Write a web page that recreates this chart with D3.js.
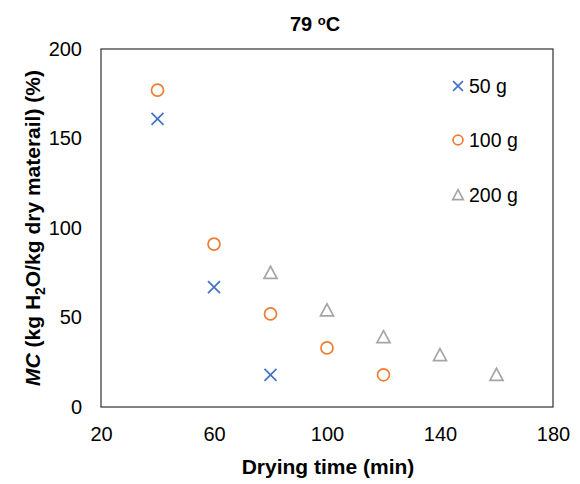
<!DOCTYPE html>
<html><head><meta charset="utf-8">
<script src="https://cdn.jsdelivr.net/npm/d3@7"></script>
<style>body{margin:0;background:#fff}text{font-family:"Liberation Sans",Arial,sans-serif}</style>
</head><body><svg id="c" width="580" height="484"></svg>
<script>
const seriesNames = ["50 g", "100 g", "200 g"];
const time50 = [40, 60, 80];
const mc50 = [161, 67, 18];
const time100 = [40, 60, 80, 100, 120];
const mc100 = [177, 91, 52, 33, 18];
const time200 = [80, 100, 120, 140, 160];
const mc200 = [75, 54, 39, 29, 18];
const xTicks = [20, 60, 100, 140, 180];
const yTicks = [0, 50, 100, 150, 200];
const colors = ["#4472C4", "#ED7D31", "#A5A5A5"];

const svg = d3.select("#c");
const L = 101, R = 553, T = 49, B = 407;
const x = d3.scaleLinear().domain([20, 180]).range([L, R]);
const y = d3.scaleLinear().domain([0, 200]).range([B, T]);

svg.append("rect").attr("x", L).attr("y", T).attr("width", R - L).attr("height", B - T)
  .attr("fill", "none").attr("stroke", "#404040").attr("stroke-width", 1.3);

const xa = svg.append("g").attr("transform", `translate(0,${B})`)
  .call(d3.axisBottom(x).tickValues(xTicks).tickSize(0).tickPadding(0).tickFormat(d3.format("d")));
xa.select(".domain").remove();
xa.selectAll("text").attr("font-size", 20).attr("fill", "#000").attr("dy", null).attr("y", 34);
const ya = svg.append("g").attr("transform", `translate(${L},0)`)
  .call(d3.axisLeft(y).tickValues(yTicks).tickSize(0).tickPadding(19).tickFormat(d3.format("d")));
ya.select(".domain").remove();
ya.selectAll("text").attr("font-size", 20).attr("fill", "#000");

// title
const t = svg.append("text").attr("x", 315).attr("y", 31).attr("text-anchor", "middle")
  .attr("font-size", 20).attr("font-weight", "bold");
t.append("tspan").text("79 ");
t.append("tspan").text("o").attr("font-size", 13).attr("dy", -6);
t.append("tspan").text("C").attr("dy", 6);

// x title
svg.append("text").attr("x", 328).attr("y", 474).attr("text-anchor", "middle")
  .attr("font-size", 21).attr("font-weight", "bold").text("Drying time (min)");

// y title
const yt = svg.append("text").attr("transform", "translate(40,228) rotate(-90)")
  .attr("text-anchor", "middle").attr("font-size", 21).attr("font-weight", "bold");
yt.append("tspan").text("MC").attr("font-style", "italic");
yt.append("tspan").text(" (kg H");
yt.append("tspan").text("2").attr("font-size", 14).attr("dy", 5);
yt.append("tspan").text("O/kg dry materail) (%)").attr("dy", -5);

function marker(g, i, cx, cy, k) {
  if (i === 0) {
    const s = 6 * k;
    g.append("path").attr("d", `M${cx-s},${cy-s}L${cx+s},${cy+s}M${cx-s},${cy+s}L${cx+s},${cy-s}`)
      .attr("stroke", colors[0]).attr("stroke-width", 1.7).attr("fill", "none");
  } else if (i === 1) {
    g.append("circle").attr("cx", cx).attr("cy", cy).attr("r", 6 * k)
      .attr("stroke", colors[1]).attr("stroke-width", 1.7).attr("fill", "none");
  } else {
    const s = 6.5 * k;
    g.append("path").attr("d", `M${cx},${cy-s}L${cx+s},${cy+s*0.85}L${cx-s},${cy+s*0.85}Z`)
      .attr("stroke", colors[2]).attr("stroke-width", 1.7).attr("fill", "none");
  }
}
const data = [[time50, mc50], [time100, mc100], [time200, mc200]];
data.forEach(([xs, ys], i) => {
  const g = svg.append("g");
  xs.forEach((v, j) => marker(g, i, x(v), y(ys[j]), 1));
});

// legend
const legY = [86, 140, 195];
seriesNames.forEach((n, i) => {
  const g = svg.append("g");
  marker(g, i, 458, legY[i], 0.82);
  g.append("text").attr("x", 469).attr("y", legY[i] + 7).attr("font-size", 19.5).text(n);
});
</script></body></html>
